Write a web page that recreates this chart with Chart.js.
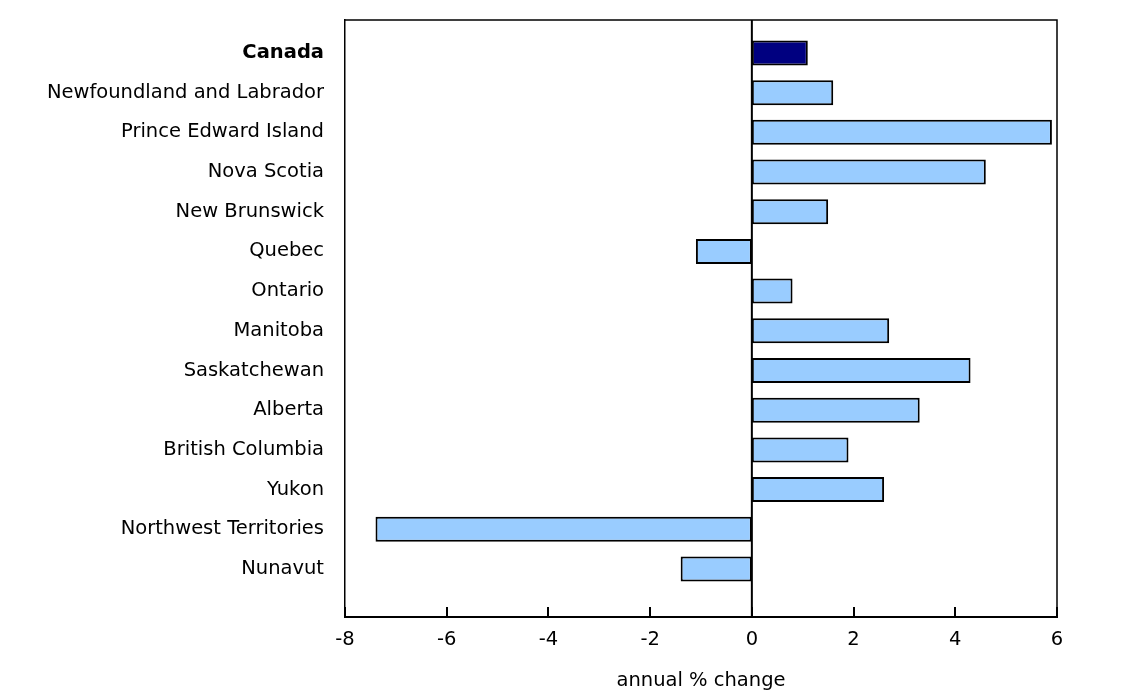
<!DOCTYPE html>
<html><head><meta charset="utf-8">
<script src="https://cdn.jsdelivr.net/npm/chart.js@4.4.1/dist/chart.umd.min.js"></script>
<style>html,body{margin:0;padding:0;background:#fff}#wrap{width:1126px;height:697px}</style>
</head><body><div id="wrap"><canvas id="c" width="1126" height="697"></canvas></div>
<script>
const categories = ["Canada","Newfoundland and Labrador","Prince Edward Island","Nova Scotia","New Brunswick","Quebec","Ontario","Manitoba","Saskatchewan","Alberta","British Columbia","Yukon","Northwest Territories","Nunavut"];
const values = [1.1,1.6,5.9,4.6,1.5,-1.1,0.8,2.7,4.3,3.3,1.9,2.6,-7.4,-1.4];
const xTicks = [-8,-6,-4,-2,0,2,4,6];
const axisTitle = "annual % change";

const FONT = "'DejaVu Sans', Verdana, sans-serif";
const framePlugin = {
  id:'frame',
  afterDraw(chart){
    const {ctx, chartArea:a, scales:{x}} = chart;
    ctx.save();
    ctx.strokeStyle='#000';
    ctx.lineWidth=1.5;
    ctx.beginPath();
    ctx.moveTo(a.left,a.top);ctx.lineTo(a.right,a.top);ctx.lineTo(a.right,a.bottom);
    ctx.stroke();
    ctx.lineWidth=2;
    xTicks.forEach(v=>{const px=Math.round(x.getPixelForValue(v));ctx.beginPath();ctx.moveTo(px,a.bottom);ctx.lineTo(px,a.bottom-10);ctx.stroke();});
    const z=x.getPixelForValue(0);
    ctx.beginPath();ctx.moveTo(z,a.top);ctx.lineTo(z,a.bottom);ctx.stroke();
    ctx.restore();
  }
};

new Chart(document.getElementById('c'),{
  type:'bar',
  data:{labels:categories,datasets:[{
    data:values,
    backgroundColor:values.map((v,i)=>i===0?'#000080':'#99CCFF'),
    borderColor:'#000',borderWidth:2,borderSkipped:false,
    categoryPercentage:1.0,barPercentage:0.63
  }]},
  options:{
    indexAxis:'y',responsive:false,devicePixelRatio:1,animation:false,
    layout:{padding:{left:0,right:69,top:20,bottom:0}},
    plugins:{legend:{display:false},tooltip:{enabled:false}},
    scales:{
      x:{min:-8,max:6,
        afterBuildTicks(s){s.ticks=xTicks.map(v=>({value:v}));},
        afterFit(s){s.height=80;},
        grid:{display:false,drawTicks:false},
        border:{display:true,color:'#000',width:2},
        ticks:{color:'#000',font:{family:FONT,size:19.5},padding:11,maxRotation:0},
        title:{display:true,text:axisTitle,color:'#000',font:{family:FONT,size:19.5},padding:{top:7}}
      },
      y:{
        offset:false,
        afterBuildTicks(s){s._startValue=-0.83;s._valueRange=(categories.length-1)+1.21+0.83;},
        afterFit(s){s.width=345;s.paddingTop=0;s.paddingBottom=0;},
        grid:{display:false,drawTicks:false},
        border:{display:true,color:'#000',width:1.5},
        ticks:{color:'#000',padding:21,autoSkip:false,
          font:(c)=>({family:FONT,size:19.5,weight:c.index===0?'bold':'normal'})}
      }
    }
  },
  plugins:[framePlugin]
});
</script></body></html>
